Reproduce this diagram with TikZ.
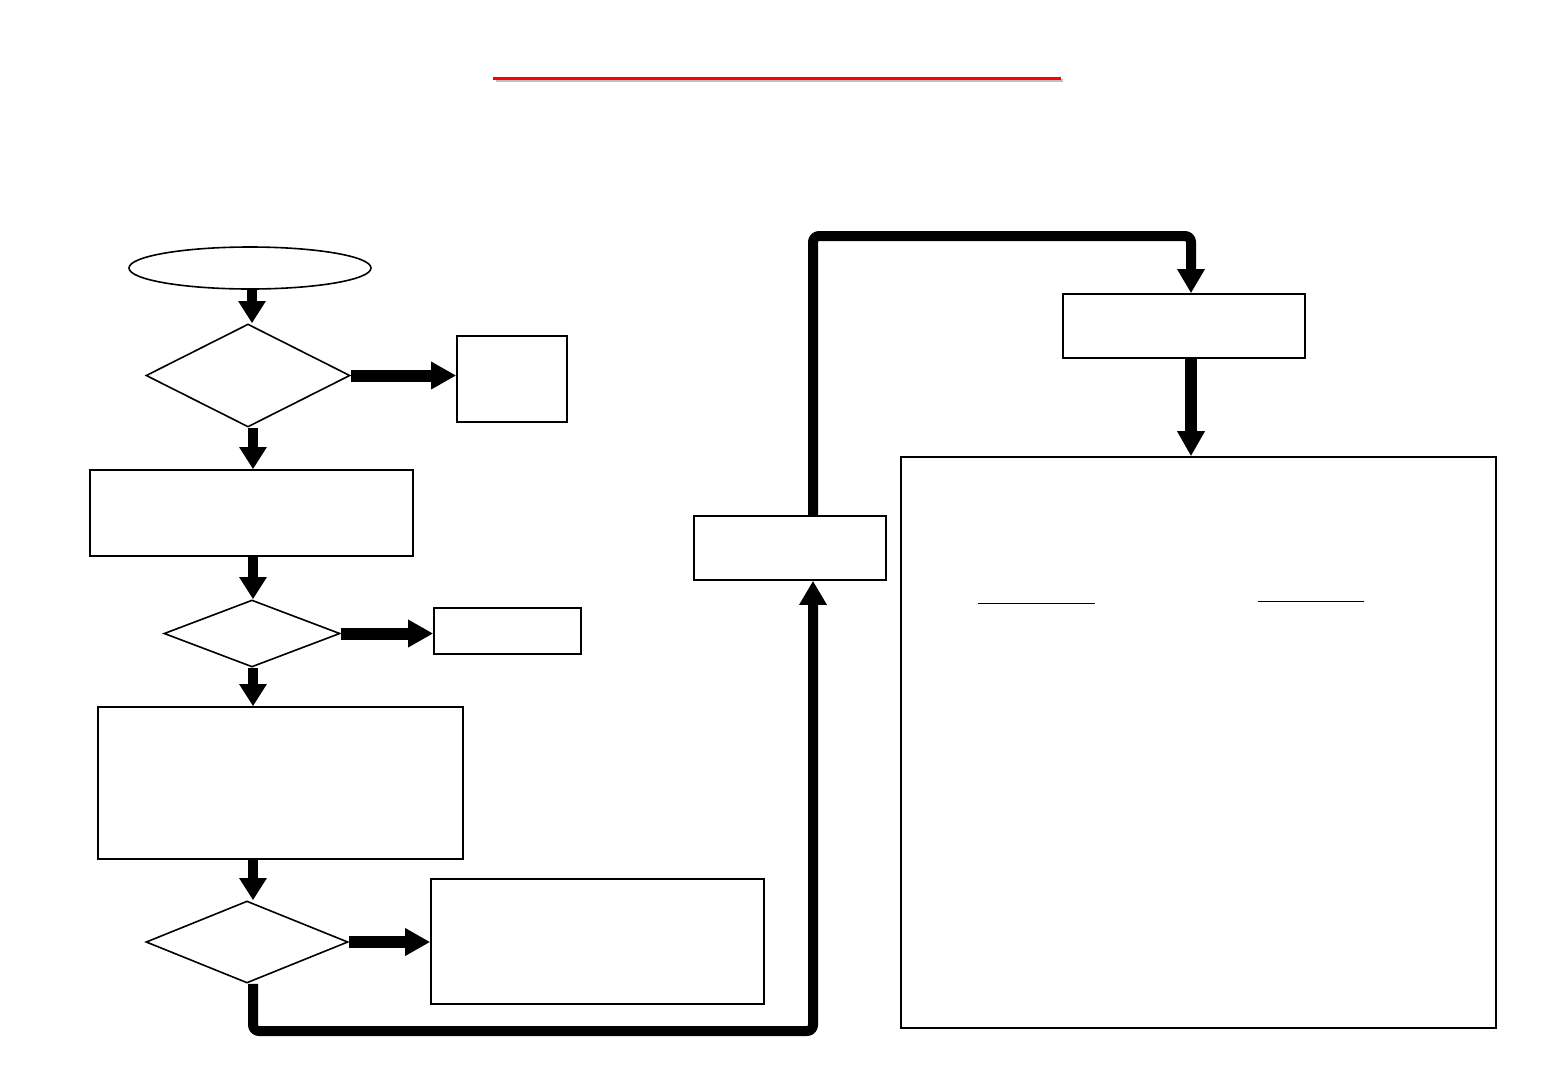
\documentclass[tikz,border=0pt]{standalone}
\usetikzlibrary{arrows.meta,shapes.geometric}
\begin{document}
\begin{tikzpicture}[x=1pt,y=-1pt,
  box/.style={draw,line width=1.6pt,rectangle,inner sep=0pt},
  dia/.style={draw,line width=1.6pt,diamond,inner sep=0pt},
  vblk/.style={line width=10pt,-{Triangle[width=26pt,length=22pt]}},
  hblk/.style={line width=12pt,-{Triangle[width=26pt,length=25pt]}},
  route/.style={line width=10pt,rounded corners=6pt,line join=round,-{Triangle[width=26pt,length=24pt]}}]
\useasboundingbox (0,0) rectangle (1560,1080);
% title underline
\draw[black!25,line width=3pt] (496,80.5) -- (1063,80.5);
\draw[red,line width=3pt] (493,78) -- (1061,78);
% nodes
\node[draw,line width=1.6pt,ellipse,minimum width=242pt,minimum height=42pt,inner sep=0pt] (start) at (250,268) {};
\node[dia,minimum width=204pt,minimum height=103pt] (d1) at (248,375.5) {};
\node[box,minimum width=110pt,minimum height=86pt] (b1) at (512,379) {};
\node[box,minimum width=323pt,minimum height=86pt] (b2) at (251.5,513) {};
\node[dia,minimum width=176pt,minimum height=67pt] (d2) at (252,633.5) {};
\node[box,minimum width=147pt,minimum height=46pt] (b3) at (507.5,631) {};
\node[box,minimum width=365pt,minimum height=152pt] (b4) at (280.5,783) {};
\node[dia,minimum width=202pt,minimum height=82pt] (d3) at (247,942) {};
\node[box,minimum width=333pt,minimum height=125pt] (b5) at (597.5,941.5) {};
\node[box,minimum width=192pt,minimum height=64pt] (b6) at (790,548) {};
\node[box,minimum width=242pt,minimum height=64pt] (b7) at (1184,326) {};
\node[box,minimum width=595pt,minimum height=571pt] (b8) at (1198.5,742.5) {};
% inner rules of the large box
\draw[line width=1.6pt] (978,603.5) -- (1095,603.5);
\draw[line width=1.6pt] (1258,601.5) -- (1364,601.5);
% connectors
\draw[vblk] ([xshift=2pt]start.south) -- ([xshift=4pt]d1.north);
\draw[hblk] (d1.east) -- (b1.west |- d1.east);
\draw[vblk] ([xshift=5pt]d1.south) -- ([xshift=5pt]d1.south |- b2.north);
\draw[vblk] ([xshift=1pt]d2.north |- b2.south) -- ([xshift=1pt]d2.north);
\draw[hblk] (d2.east) -- (b3.west |- d2.east);
\draw[vblk] ([xshift=1pt]d2.south) -- ([xshift=1pt]d2.south |- b4.north);
\draw[vblk] ([xshift=6pt]d3.north |- b4.south) -- ([xshift=6pt]d3.north);
\draw[hblk] (d3.east) -- (b5.west |- d3.east);
\draw[route] ([xshift=6pt]d3.south) -- ([xshift=6pt]d3.south |- 0,1031) -| ([xshift=23pt]b6.south);
\draw[route] ([xshift=23pt]b6.north) -- ([xshift=23pt]b6.north |- 0,236) -| ([xshift=7pt]b7.north);
\draw[hblk] ([xshift=7pt]b7.south) -- ([xshift=7pt]b7.south |- b8.north);
\end{tikzpicture}
\end{document}
